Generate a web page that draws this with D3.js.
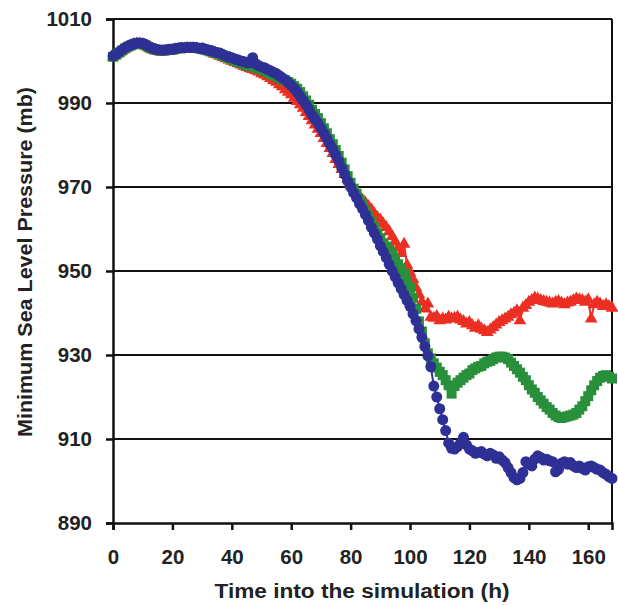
<!DOCTYPE html>
<html>
<head>
<meta charset="utf-8">
<script src="https://cdn.jsdelivr.net/npm/d3@7"></script>
<style>
  body { margin: 0; background: #fff; }
  text { font-family: "Liberation Sans", Arial, sans-serif; font-weight: bold; fill: #222; }
</style>
</head>
<body>
<div id="chart"></div>
<script>
//  data : hourly minimum sea level pressure (mb)
var HOURS = d3.range(0, 169);
var X_TICKS = [0, 20, 40, 60, 80, 100, 120, 140, 160];
var Y_TICKS = [890, 910, 930, 950, 970, 990, 1010];

var RED = [
  1001.0, 1001.4, 1001.9, 1002.4, 1002.9, 1003.3, 1003.6, 1003.9, 1004.1, 1004.1,
  1003.9, 1003.6, 1003.2, 1002.8, 1002.5, 1002.3, 1002.2, 1002.2, 1002.3, 1002.4,
  1002.5, 1002.7, 1002.8, 1002.9, 1002.9, 1003.0, 1003.0, 1003.0, 1002.9, 1002.8,
  1002.7, 1002.5, 1002.3, 1002.0, 1001.7, 1001.5, 1001.2, 1000.9, 1000.6, 1000.3,
  1000.0, 999.7, 999.4, 999.1, 998.8, 998.5, 998.2, 998.0, 997.7, 997.4,
  997.0, 996.7, 996.3, 995.9, 995.4, 995.0, 994.4, 993.9, 993.2, 992.6,
  992.0, 991.2, 990.4, 989.6, 988.8, 987.8, 986.8, 985.8, 984.8, 983.8,
  982.8, 981.6, 980.4, 979.2, 978.0, 976.6, 975.4, 974.2, 973.0, 972.0,
  970.8, 969.8, 968.8, 967.8, 966.8, 966.2, 965.4, 964.6, 963.6, 962.8,
  962.2, 961.2, 960.4, 959.4, 958.2, 957.0, 955.6, 954.2, 956.4, 951.4,
  949.6, 948.0, 946.0, 944.4, 942.6, 941.0, 942.2, 939.0, 938.8, 939.2,
  938.2, 938.6, 938.4, 939.0, 938.6, 938.8, 939.0, 938.4, 938.0, 937.4,
  937.8, 937.0, 936.4, 937.0, 936.2, 935.8, 935.4, 936.0, 936.6, 937.2,
  937.8, 938.2, 938.6, 939.0, 939.6, 940.0, 940.6, 938.2, 941.2, 941.8,
  942.6, 943.0, 943.6, 943.4, 943.0, 942.8, 942.6, 942.4, 942.2, 942.6,
  942.8, 942.4, 942.0, 942.4, 942.6, 943.0, 943.4, 943.2, 943.0, 942.6,
  943.2, 938.6, 942.0, 942.6, 942.2, 941.6, 942.0, 941.6, 941.2
];

var GREEN = [
  1001.0, 1001.5, 1002.0, 1002.5, 1003.0, 1003.4, 1003.7, 1004.0, 1004.2, 1004.2,
  1004.0, 1003.7, 1003.3, 1003.0, 1002.8, 1002.6, 1002.5, 1002.5, 1002.6, 1002.7,
  1002.7, 1002.9, 1003.0, 1003.1, 1003.1, 1003.2, 1003.2, 1003.2, 1003.1, 1003.0,
  1002.9, 1002.7, 1002.5, 1002.3, 1002.0, 1001.8, 1001.6, 1001.3, 1001.0, 1000.7,
  1000.4, 1000.1, 999.8, 999.6, 999.3, 999.0, 998.8, 998.7, 998.5, 998.2,
  998.0, 997.7, 997.4, 997.0, 996.6, 996.4, 996.0, 995.6, 995.4, 995.0,
  994.6, 994.0, 993.4, 992.6, 991.6, 990.6, 989.6, 988.4, 987.4, 986.4,
  985.2, 984.0, 982.8, 981.4, 980.2, 978.8, 977.4, 975.8, 974.2, 972.6,
  971.0, 969.6, 968.4, 967.0, 965.8, 964.4, 963.0, 961.8, 960.4, 959.0,
  957.8, 956.6, 955.8, 955.0, 954.0, 952.8, 951.6, 950.6, 949.4, 947.8,
  946.0, 943.6, 941.0, 938.0, 935.6, 932.8, 930.4, 929.2, 928.0, 927.0,
  926.0, 925.2, 924.0, 922.8, 920.8, 922.6, 923.4, 924.0, 924.6, 925.2,
  925.6, 926.4, 926.8, 927.2, 927.4, 928.0, 928.4, 928.6, 929.0, 929.4,
  929.6, 929.6, 929.4, 929.0, 928.2, 927.4, 926.6, 925.8, 924.8, 924.0,
  922.8, 921.8, 921.0, 920.0, 919.2, 918.4, 917.6, 917.0, 916.2, 915.6,
  915.2, 915.0, 915.2, 915.4, 915.6, 915.8, 916.2, 917.0, 917.8, 919.0,
  920.2, 921.6, 922.8, 923.8, 924.6, 925.0, 925.2, 924.8, 924.4
];

var BLUE = [
  1001.2, 1001.6, 1002.1, 1002.6, 1003.1, 1003.5, 1003.8, 1004.1, 1004.3, 1004.3,
  1004.2, 1003.9, 1003.5, 1003.1, 1002.9, 1002.7, 1002.6, 1002.6, 1002.7, 1002.8,
  1002.8, 1003.0, 1003.1, 1003.2, 1003.1, 1003.3, 1003.2, 1003.3, 1003.2, 1003.0,
  1003.1, 1002.8, 1002.6, 1002.5, 1002.2, 1002.0, 1001.9, 1001.5, 1001.2, 1001.0,
  1000.8, 1000.5, 1000.3, 1000.0, 999.9, 999.6, 999.6, 1000.8, 999.4, 998.9,
  998.6, 998.4, 998.0, 997.7, 997.3, 997.0, 996.5, 996.0, 995.5, 994.8,
  994.2, 993.5, 992.6, 991.6, 990.6, 989.6, 988.4, 987.2, 986.2, 985.2,
  984.0, 982.8, 981.6, 980.2, 979.0, 977.6, 976.2, 974.6, 973.0, 971.4,
  970.0, 968.6, 967.4, 966.0, 964.8, 963.4, 962.0, 960.4, 959.0, 957.6,
  956.0, 954.6, 953.2, 951.6, 950.0, 948.6, 947.2, 945.8, 944.4, 943.0,
  941.6, 939.8, 938.2, 936.2, 934.2, 932.0, 929.8, 927.2, 922.6, 920.0,
  917.2, 914.6, 912.0, 909.0, 907.8, 907.6, 908.2, 909.0, 910.4, 908.6,
  907.6, 907.2, 906.6, 906.8, 907.0, 906.4, 906.0, 906.6, 906.2, 905.4,
  905.8, 905.0, 904.4, 903.2, 902.0, 900.8, 900.3, 900.6, 902.0, 904.6,
  904.0, 903.6, 905.2, 906.0, 905.6, 905.0, 905.2, 904.8, 904.6, 902.2,
  902.8, 904.2, 904.6, 904.0, 904.4, 903.6, 903.2, 903.6, 903.0, 902.6,
  903.4, 903.6, 903.2, 902.8, 902.6, 902.0, 901.6, 901.0, 900.6
];

var SERIES = [
  {name: "red", values: RED, color: "#ec2f22", shape: d3.symbolTriangle, size: 70},
  {name: "green", values: GREEN, color: "#28903a", shape: d3.symbolSquare, size: 100},
  {name: "blue", values: BLUE, color: "#2e3096", shape: d3.symbolCircle, size: 95}
];

//  draw
function draw_chart() {
  const w = 618, h = 605;
  const margin = ({top: 19, right: 6, bottom: 82, left: 113});

  const svg = d3.select("#chart").append("svg").attr("width", w).attr("height", h);

  const x = d3.scaleLinear().domain([0, 168]).range([margin.left, w - margin.right]);
  const y = d3.scaleLinear().domain([890, 1010]).range([h - margin.bottom, margin.top]);

  // horizontal grid lines
  svg.append("g").selectAll("line").data(Y_TICKS.slice(1)).enter()
    .append("line")
    .attr("x1", x(0)).attr("x2", x(168))
    .attr("y1", d => y(d)).attr("y2", d => y(d))
    .attr("stroke", "#111").attr("stroke-width", 2);

  // right border
  svg.append("line")
    .attr("x1", x(168)).attr("x2", x(168))
    .attr("y1", y(1010)).attr("y2", y(890))
    .attr("stroke", "#111").attr("stroke-width", 2);

  const xAxis = g => g
    .attr("transform", `translate(0,${y(890)})`)
    .call(d3.axisBottom(x).tickValues(X_TICKS).tickFormat(d3.format("d")).tickSize(7).tickPadding(19))
    .call(g => g.select(".domain").attr("stroke", "#111").attr("stroke-width", 2.5))
    .call(g => g.selectAll(".tick line").attr("stroke", "#111").attr("stroke-width", 2.5))
    .call(g => g.selectAll("text").attr("font-size", 20.5).attr("font-family", null).attr("fill", "#222"));

  const yAxis = g => g
    .attr("transform", `translate(${x(0)},0)`)
    .call(d3.axisLeft(y).tickValues(Y_TICKS).tickFormat(d3.format("d")).tickSize(7).tickPadding(14))
    .call(g => g.select(".domain").attr("stroke", "#111").attr("stroke-width", 2.5))
    .call(g => g.selectAll(".tick line").attr("stroke", "#111").attr("stroke-width", 2.5))
    .call(g => g.selectAll("text").attr("font-size", 20.5).attr("font-family", null).attr("fill", "#222"));

  svg.append("g").call(xAxis);
  svg.append("g").call(yAxis);

  // series : thin line plus markers
  const line = d3.line().x((d, i) => x(HOURS[i])).y(d => y(d));

  SERIES.forEach(s => {
    const g = svg.append("g");
    g.append("path")
      .attr("d", line(s.values))
      .attr("fill", "none")
      .attr("stroke", s.color)
      .attr("stroke-width", 2);
    g.selectAll("path.mk").data(s.values).enter()
      .append("path")
      .attr("class", "mk")
      .attr("d", d3.symbol().type(s.shape).size(s.size))
      .attr("transform", (d, i) => `translate(${x(HOURS[i])},${y(d)})`)
      .attr("fill", s.color);
  });

  // axis titles
  svg.append("text")
    .attr("x", 362)
    .attr("y", 598)
    .attr("text-anchor", "middle")
    .attr("textLength", 295)
    .attr("lengthAdjust", "spacingAndGlyphs")
    .style("font-size", "20px")
    .text("Time into the simulation (h)");

  svg.append("text")
    .attr("transform", "translate(32,262) rotate(-90)")
    .attr("text-anchor", "middle")
    .attr("textLength", 350)
    .attr("lengthAdjust", "spacingAndGlyphs")
    .style("font-size", "20px")
    .text("Minimum Sea Level Pressure (mb)");

  return svg.node();
}

draw_chart();
</script>
</body>
</html>
